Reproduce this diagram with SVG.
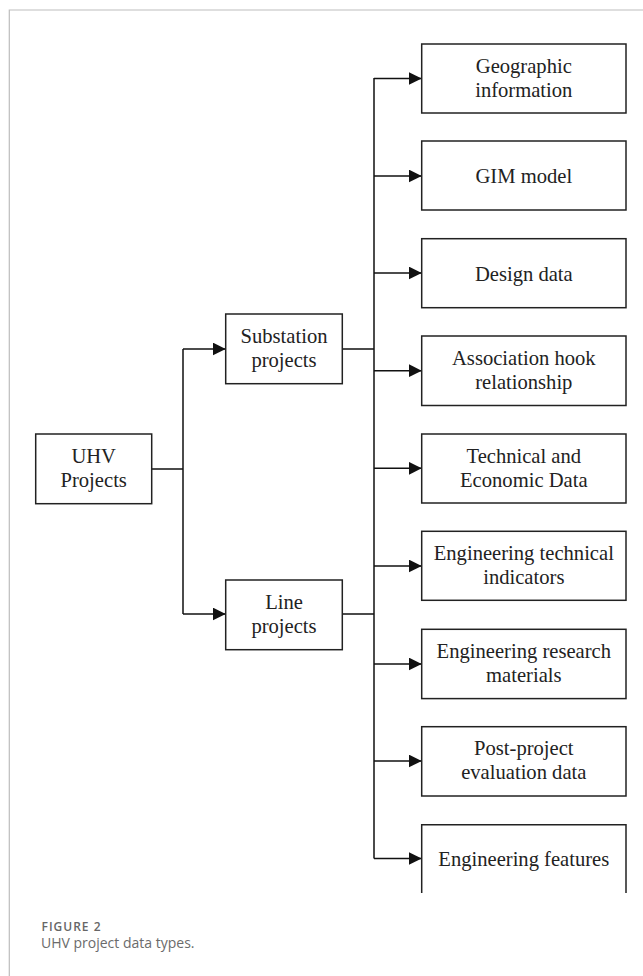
<svg xmlns="http://www.w3.org/2000/svg" width="643" height="976" viewBox="0 0 643 976">
<defs>
<marker id="ah" markerWidth="14" markerHeight="13" refX="13" refY="6.5" orient="auto" markerUnits="userSpaceOnUse">
<path d="M0,0 L13,6.5 L0,13 Z" fill="#111"/>
</marker>
<style>
.box{fill:#fff;stroke:#222;stroke-width:1.5}
.t{font-family:"Liberation Serif","Times New Roman",serif;font-size:20.6px;fill:#222;text-anchor:middle}
.c{fill:none;stroke:#111;stroke-width:1.5}
.frame{fill:none;stroke:#bdbdbd;stroke-width:1.2}
.cap1{font-family:"Open Sans","Noto Sans",sans-serif;font-size:12px;font-weight:600;letter-spacing:1px;fill:#666}
.cap2{font-family:"Open Sans","Noto Sans",sans-serif;font-size:14px;fill:#6b6b6b}
</style>
</defs>
<rect width="643" height="976" fill="#fff"/>
<path class="frame" d="M9.3,976 V10 H643"/>

<g id="connectors">
<path class="c" d="M152,469 H183 M183,349 V614"/>
<path class="c" d="M183,349 H225.7" marker-end="url(#ah)"/>
<path class="c" d="M183,614 H225.7" marker-end="url(#ah)"/>
<path class="c" d="M342.3,349 H374 M342.3,614 H374 M374,78 V858.5"/>
<path class="c" d="M374,78.5 H421.7" marker-end="url(#ah)"/>
<path class="c" d="M374,176 H421.7" marker-end="url(#ah)"/>
<path class="c" d="M374,273 H421.7" marker-end="url(#ah)"/>
<path class="c" d="M374,370.7 H421.7" marker-end="url(#ah)"/>
<path class="c" d="M374,468.3 H421.7" marker-end="url(#ah)"/>
<path class="c" d="M374,566 H421.7" marker-end="url(#ah)"/>
<path class="c" d="M374,664 H421.7" marker-end="url(#ah)"/>
<path class="c" d="M374,761 H421.7" marker-end="url(#ah)"/>
<path class="c" d="M374,858.5 H421.7" marker-end="url(#ah)"/>
</g>

<g id="uhv">
<rect class="box" x="35.7" y="434" width="116" height="69.7"/>
<text class="t" x="93.7" y="463">UHV</text>
<text class="t" x="93.7" y="487">Projects</text>
</g>
<g id="substation">
<rect class="box" x="225.7" y="314" width="116.6" height="69.7"/>
<text class="t" x="284" y="343">Substation</text>
<text class="t" x="284" y="367">projects</text>
</g>
<g id="line">
<rect class="box" x="225.7" y="580" width="116.6" height="69.7"/>
<text class="t" x="284" y="609">Line</text>
<text class="t" x="284" y="633">projects</text>
</g>

<g id="geographic">
<rect class="box" x="421.7" y="44" width="204.3" height="69"/>
<text class="t" x="523.8" y="72.5">Geographic</text>
<text class="t" x="523.8" y="96.5">information</text>
</g>
<g id="gim">
<rect class="box" x="421.7" y="141" width="204.3" height="69"/>
<text class="t" x="523.8" y="183">GIM model</text>
</g>
<g id="design">
<rect class="box" x="421.7" y="238.7" width="204.3" height="69"/>
<text class="t" x="523.8" y="280.5">Design data</text>
</g>
<g id="association">
<rect class="box" x="421.7" y="336" width="204.3" height="69.5"/>
<text class="t" x="523.8" y="364.5">Association hook</text>
<text class="t" x="523.8" y="388.5">relationship</text>
</g>
<g id="technical">
<rect class="box" x="421.7" y="434" width="204.3" height="69"/>
<text class="t" x="523.8" y="462.5">Technical and</text>
<text class="t" x="523.8" y="486.5">Economic Data</text>
</g>
<g id="eng-tech">
<rect class="box" x="421.7" y="531.3" width="204.3" height="69"/>
<text class="t" x="523.8" y="560">Engineering technical</text>
<text class="t" x="523.8" y="584">indicators</text>
</g>
<g id="eng-research">
<rect class="box" x="421.7" y="629.3" width="204.3" height="69.3"/>
<text class="t" x="523.8" y="658">Engineering research</text>
<text class="t" x="523.8" y="682">materials</text>
</g>
<g id="post-project">
<rect class="box" x="421.7" y="726.7" width="204.3" height="69.3"/>
<text class="t" x="523.8" y="755">Post-project</text>
<text class="t" x="523.8" y="779">evaluation data</text>
</g>
<g id="eng-features">
<path class="box" d="M421.7,893 V824.7 H626 V893"/>
<text class="t" x="523.8" y="866">Engineering features</text>
</g>

<text class="cap1" x="41.5" y="930.5">FIGURE 2</text>
<text class="cap2" x="41" y="948">UHV project data types.</text>
</svg>
